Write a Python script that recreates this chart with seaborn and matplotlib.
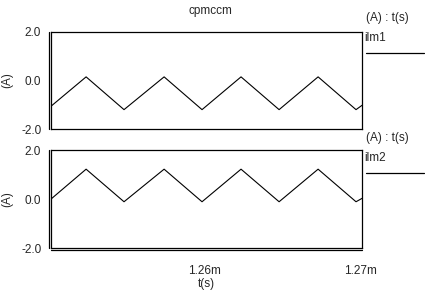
import numpy as np
import pandas as pd
import matplotlib.pyplot as plt
import seaborn as sns

# ── Data (time in ms, current in A) ─────────────────────────────────────────
T_MS = [1.25019, 1.25244, 1.25487, 1.25744, 1.25987, 1.26237, 1.26481, 1.26731, 1.26974, 1.27013]
ILM1 = [-1.06, 0.15, -1.20, 0.15, -1.20, 0.15, -1.20, 0.15, -1.20, -1.02]
ILM2 = [0.00, 1.22, -0.11, 1.22, -0.11, 1.22, -0.11, 1.22, -0.11, 0.03]
X_TICKS = [1.26, 1.27]
Y_TICKS = [-2.0, 0.0, 2.0]
TITLE = "cpmccm"
NAMES = ["ilm1", "ilm2"]

sns.set_theme(style="white")
plt.rcParams['font.family'] = ['Liberation Sans', 'DejaVu Sans']
FS = 8.5

df = pd.DataFrame({"t": T_MS * 2,
                   "i": ILM1 + ILM2,
                   "sig": [NAMES[0]] * len(T_MS) + [NAMES[1]] * len(T_MS)})

fig = plt.figure(figsize=(4.25, 2.96), dpi=100)
ax1 = fig.add_axes([0.12, 0.564, 0.732, 0.328])
ax2 = fig.add_axes([0.12, 0.162, 0.732, 0.331])

for ax, name in zip([ax1, ax2], NAMES):
    sub = df[df["sig"] == name]
    sns.lineplot(data=sub, x="t", y="i", ax=ax, color="black", lw=0.8,
                 estimator=None, sort=False, legend=False)
    ax.set_xlim(1.25019, 1.27013)
    ax.set_ylim(-2.0, 2.0)
    ax.set_yticks(Y_TICKS)
    ax.set_yticklabels([f"{v:.1f}" for v in Y_TICKS], fontsize=FS)
    ax.set_ylabel("(A)", fontsize=FS)
    ax.yaxis.set_label_coords(-0.12, 0.5)
    ax.tick_params(axis="y", direction="out", length=5, width=0.8, pad=2, color="black")
    for s in ax.spines.values():
        s.set_color("black")
        s.set_linewidth(0.9)
    # doubled left spine
    ax.plot([-0.008, -0.008], [0, 1], transform=ax.transAxes, color="black",
            lw=0.9, clip_on=False)

ax1.set_xticks([])
ax1.set_xlabel("")
ax2.set_xticks(X_TICKS)
ax2.set_xticklabels([f"{v:.2f}m" for v in X_TICKS], fontsize=FS)
ax2.tick_params(axis="x", direction="out", length=8, width=0.8, pad=4, color="black")
ax2.set_xlabel("t(s)", fontsize=FS, labelpad=1)
# doubled bottom spine
ax2.plot([0, 1], [-0.022, -0.022], transform=ax2.transAxes, color="black",
         lw=0.9, clip_on=False)

fig.text(0.495, 0.982, TITLE, ha="center", va="top", fontsize=FS)

# right-side signal labels
for ax, name, ytop in zip([ax1, ax2], NAMES, [0.94, 0.535]):
    fig.text(0.862, ytop, "(A) : t(s)", ha="left", va="center", fontsize=FS)
    fig.text(0.858, ytop - 0.07, name, ha="left", va="center", fontsize=FS)
    fig.add_artist(plt.Line2D([0.862, 0.998], [ytop - 0.118, ytop - 0.118],
                              color="black", lw=0.9))

fig.savefig("out.png", dpi=100)
